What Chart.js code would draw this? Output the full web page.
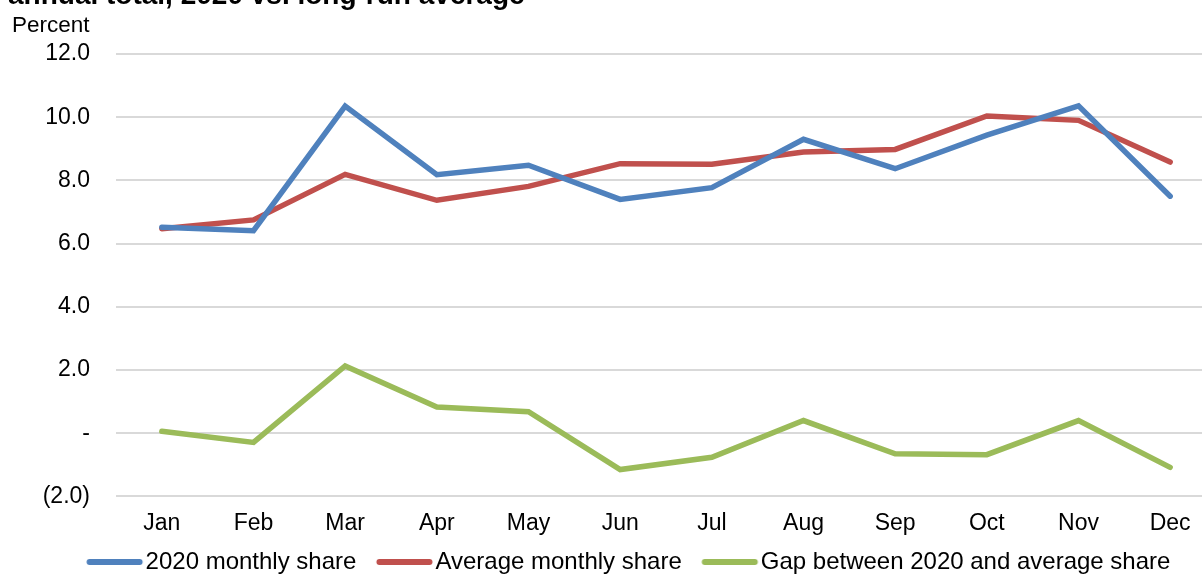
<!DOCTYPE html>
<html>
<head>
<meta charset="utf-8">
<script src="https://cdn.jsdelivr.net/npm/chart.js@4.4.1/dist/chart.umd.min.js"></script>
<style>
    html, body { margin: 0; padding: 0; background: #fff; overflow: hidden; }
    #wrap { position: relative; width: 1202px; height: 575px; overflow: hidden; }
    #title { position: absolute; left: 8px; top: -19px; font: bold 28px/28px "Liberation Sans", Arial, sans-serif; color: #000; white-space: nowrap; }
    #unit { position: absolute; left: 12px; top: 14px; font: 22.5px/22px "Liberation Sans", Arial, sans-serif; color: #000; }
    #chart-box { position: absolute; left: 0; top: 0; width: 1216px; height: 584px; }
</style>
</head>
<body>
<div id="wrap">
    <div id="chart-box"><canvas id="result-chart"></canvas></div>
    <div id="title">annual total, 2020 vs. long-run average</div>
    <div id="unit">Percent</div>
</div>
<script>
// chart data
const months = ['Jan', 'Feb', 'Mar', 'Apr', 'May', 'Jun', 'Jul', 'Aug', 'Sep', 'Oct', 'Nov', 'Dec'];
const share2020 = [6.52, 6.41, 10.35, 8.18, 8.48, 7.40, 7.77, 9.30, 8.37, 9.43, 10.36, 7.50];
const shareAverage = [6.47, 6.75, 8.19, 7.37, 7.81, 8.53, 8.51, 8.90, 8.98, 10.04, 9.90, 8.58];
const shareGap = [0.06, -0.29, 2.13, 0.83, 0.68, -1.15, -0.76, 0.40, -0.65, -0.68, 0.40, -1.08];
const yTicks = [-2, 0, 2, 4, 6, 8, 10, 12];
const yTickLabels = ['(2.0)', '-', '2.0', '4.0', '6.0', '8.0', '10.0', '12.0'];

const fontFamily = '"Liberation Sans", Arial, sans-serif';

// legend swatch: the legend box is 67 wide, the line sits in its right part
// so the empty left part works as the gap between legend items
function swatch(color) {
    let c = document.createElement('canvas');
    c.width = 160;
    c.height = 8;
    let g = c.getContext('2d');
    g.strokeStyle = color;
    g.lineWidth = 6;
    g.lineCap = 'round';
    g.beginPath();
    g.moveTo(69.5, 4);
    g.lineTo(119.5, 4);
    g.stroke();
    return c;
}

function lineSet(label, data, color) {
    return {
        label: label,
        data: data,
        borderColor: color,
        backgroundColor: color,
        borderWidth: 5.5,
        pointRadius: 0,
        tension: 0,
        borderCapStyle: 'round',
        borderJoinStyle: 'miter',
        swatch: swatch(color)
    };
}

const ctx = document.getElementById('result-chart');
const chart = new Chart(ctx, {
    type: 'line',
    data: {
        labels: months,
        datasets: [
            lineSet('2020 monthly share', share2020, '#4f81bd'),
            lineSet('Average monthly share', shareAverage, '#c0504d'),
            lineSet('Gap between 2020 and average share', shareGap, '#9bbb59')
        ]
    },
    options: {
        responsive: true,
        maintainAspectRatio: false,
        animation: false,
        layout: { padding: { top: 54, left: 21, right: 0, bottom: 0 } },
        plugins: {
            tooltip: { enabled: false },
            legend: {
                position: 'bottom',
                labels: {
                    font: { family: fontFamily, size: 24 },
                    color: '#000',
                    usePointStyle: true,
                    pointStyleWidth: 67,
                    boxHeight: 8,
                    padding: 0,
                    generateLabels: function (c) {
                        return Chart.defaults.plugins.legend.labels.generateLabels(c).map(function (item) {
                            item.pointStyle = c.data.datasets[item.datasetIndex].swatch;
                            item.lineWidth = 0;
                            return item;
                        });
                    }
                }
            }
        },
        scales: {
            x: {
                offset: true,
                grid: { display: false, drawTicks: false },
                border: { display: false },
                ticks: {
                    font: { family: fontFamily, size: 23 },
                    color: '#000',
                    padding: 13,
                    maxRotation: 0
                }
            },
            y: {
                min: -2,
                max: 12,
                afterFit: function (scale) { scale.width = 95; },
                afterBuildTicks: function (scale) {
                    scale.ticks = yTicks.map((v) => ({ value: v }));
                },
                grid: { color: '#d9d9d9', lineWidth: 2, drawTicks: false },
                border: { display: false },
                ticks: {
                    font: { family: fontFamily, size: 23 },
                    color: '#000',
                    padding: 26,
                    callback: function (value) {
                        return yTickLabels[yTicks.indexOf(value)];
                    }
                }
            }
        }
    }
});
</script>
</body>
</html>
